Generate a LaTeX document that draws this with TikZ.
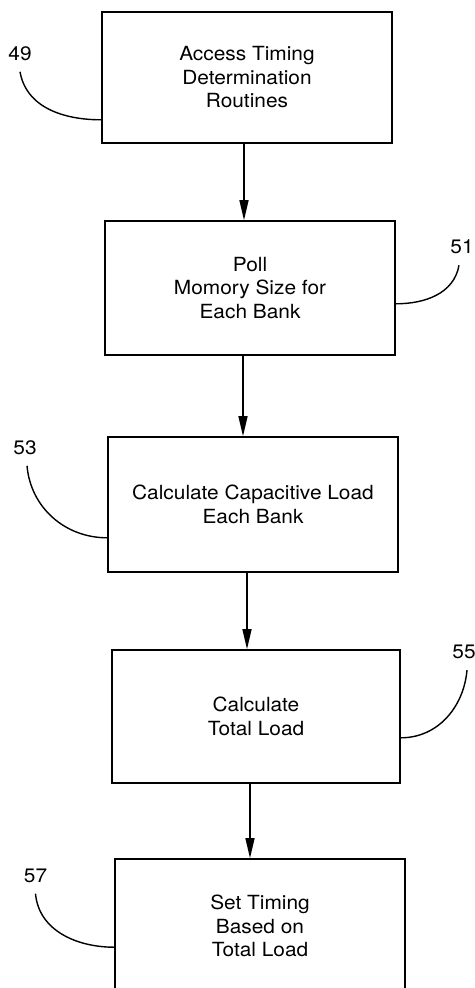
\documentclass[tikz,border=0pt]{standalone}
\usepackage{fontspec}
\setmainfont{TeX Gyre Heros}[FakeStretch=1.07]
\usetikzlibrary{arrows.meta}

\begin{document}
\begin{tikzpicture}[x=1pt, y=-1pt,
    stepbox/.style={draw, line width=1.6pt, minimum width=290pt, align=center,
      inner sep=0pt, font=\fontsize{19.5}{23.5}\selectfont},
    refnum/.style={inner xsep=0pt, inner ysep=11pt, font=\fontsize{19.5}{23.5}\selectfont},
    flow/.style={line width=1.4pt, -{Triangle[length=20pt, width=9pt]}},
    leader/.style={line width=1.4pt}]
  \useasboundingbox (0,0) rectangle (474,988);
  % steps
  \node[stepbox, minimum height=131pt] (access) at (247,77.5) {Access Timing\\Determination\\Routines};
  \node[stepbox, minimum height=134pt] (poll) at (250,288) {Poll\\Momory Size for\\Each Bank};
  \node[stepbox, minimum height=135pt] (capload) at (253,504.5) {Calculate Capacitive Load\\Each Bank};
  \node[stepbox, minimum height=133pt, minimum width=288pt] (totload) at (256,716.5) {Calculate\\Total Load};
  \node[stepbox, minimum height=134pt] (settiming) at (260,926) {Set Timing\\Based on\\Total Load};
  % flow arrows
  \draw[flow] ([xshift=-3pt]access.south) -- ([xshift=-6pt]poll.north);
  \draw[flow] ([xshift=-7pt]poll.south) -- ([xshift=-10pt]capload.north);
  \draw[flow] ([xshift=-6pt]capload.south) -- ([xshift=-9pt]totload.north);
  \draw[flow] ([xshift=-6pt]totload.south) -- ([xshift=-10pt]settiming.north);
  % reference numerals
  \node[refnum] (n49) at (20,53.5) {49};
  \node[refnum] (n51) at (462,247) {51};
  \node[refnum] (n53) at (25,447.5) {53};
  \node[refnum] (n55) at (464,652) {55};
  \node[refnum] (n57) at (35.5,875.5) {57};
  \draw[leader] (n49.south) to[out=-80, in=180] ([yshift=24pt]access.south west);
  \draw[leader] ([xshift=-3pt]n51.south) to[out=-100, in=0] ([yshift=52pt]poll.south east);
  \draw[leader] ([xshift=2pt]n53.south) to[out=-85, in=180] ([yshift=35pt]capload.south west);
  \draw[leader] ([xshift=3pt]n55.south) to[out=-95, in=0] ([yshift=46pt]totload.south east);
  \draw[leader] (n57.south) to[out=-85, in=180] ([yshift=-89pt]settiming.north west);
\end{tikzpicture}
\end{document}
